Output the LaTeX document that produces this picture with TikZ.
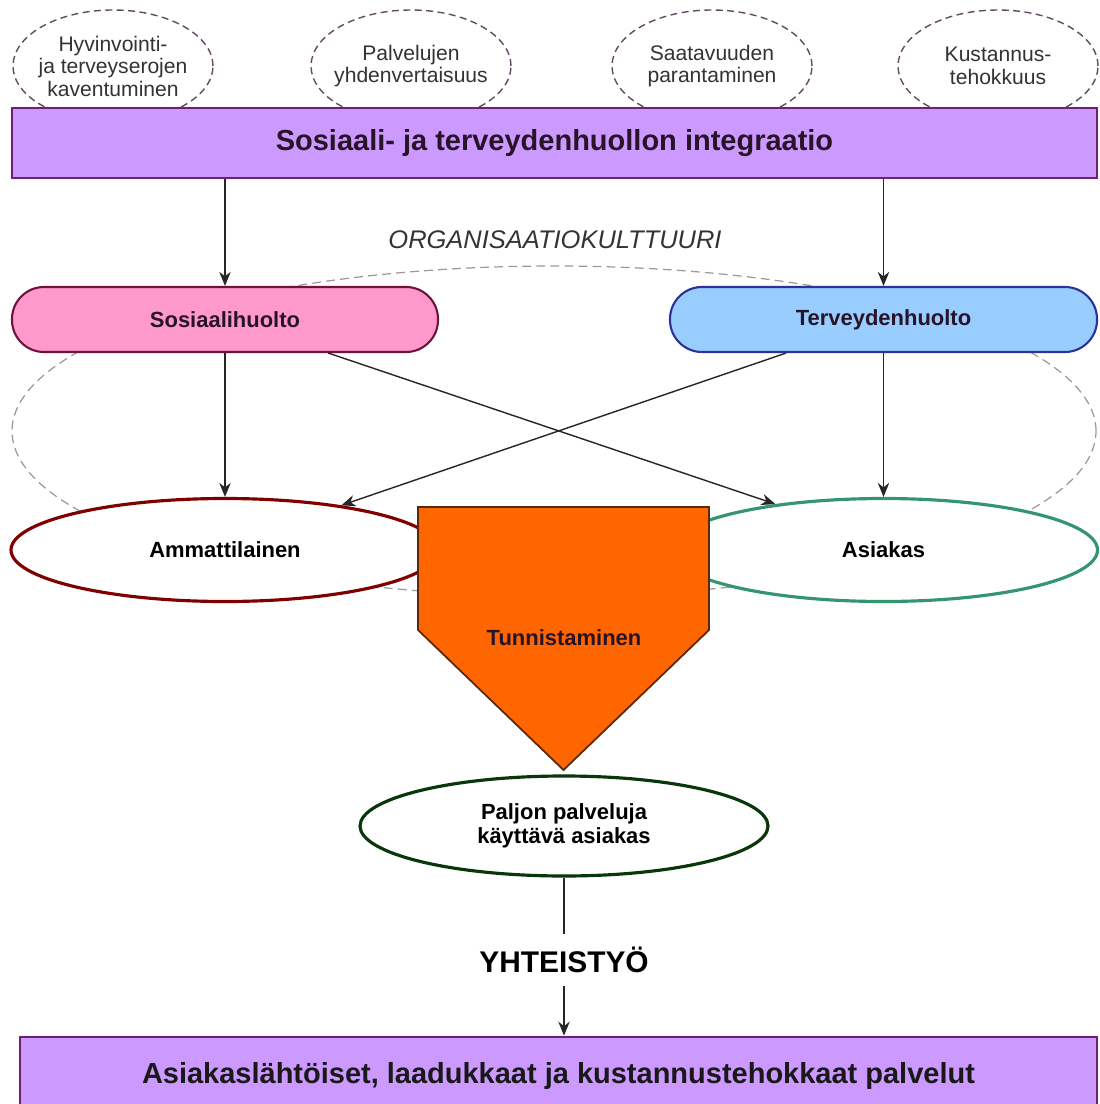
\documentclass[tikz,border=0pt]{standalone}
\usepackage{fontspec}
\setmainfont{Liberation Sans}
\usetikzlibrary{arrows.meta, shapes.geometric}

\definecolor{violetfill}{RGB}{204,153,255}
\definecolor{violetline}{RGB}{112,32,112}
\definecolor{aimline}{RGB}{100,75,100}
\definecolor{pinkfill}{RGB}{255,153,204}
\definecolor{pinkline}{RGB}{110,20,60}
\definecolor{bluefill}{RGB}{153,204,255}
\definecolor{blueline}{RGB}{45,50,150}
\definecolor{proline}{RGB}{128,0,0}
\definecolor{clientline}{RGB}{51,150,110}
\definecolor{heavyline}{RGB}{10,55,10}
\definecolor{orangefill}{RGB}{255,102,0}
\definecolor{orangeline}{RGB}{90,40,10}
\definecolor{inktext}{RGB}{40,20,40}

\begin{document}
\begin{tikzpicture}[x = 0.02cm, y = -0.02cm, > = {Stealth[length = 8pt, width = 6.5pt]},
	aim/.style = {ellipse, draw = aimline, dash pattern = on 4pt off 2.5pt, line width = 0.8pt, fill = white, inner xsep = -4pt, inner ysep = 0pt, align = center, text = black!80, font = \fontsize{12}{12.8}\selectfont},
	band/.style = {draw = violetline, fill = violetfill, line width = 1.5pt, text = inktext, font = \bfseries\fontsize{16.5}{18}\selectfont},
	pill/.style = {rectangle, rounded corners = 0.64cm, line width = 1.2pt, text = inktext, font = \bfseries\fontsize{12.5}{14}\selectfont},
	role/.style = {ellipse, fill = white, line width = 1.8pt, align = center, font = \bfseries\fontsize{12.5}{14}\selectfont},
	link/.style = {->, line width = 0.8pt, draw = black!85}]

	% Definition

	\def\px{0.02cm};

	\useasboundingbox (0, 0) rectangle (1099, 1104);

	% Aims above the integration

	\foreach \name/\cx/\txt in {aim1/113/{Hyvinvointi-\\ja terveyserojen\\kaventuminen}, aim2/411/{Palvelujen\\yhdenvertaisuus}, aim3/712/{Saatavuuden\\parantaminen}, aim4/998/{Kustannus-\\tehokkuus}}
	{
		\node [aim, minimum width = 200 * \px, minimum height = 112 * \px] (\name) at (\cx, 66) {\txt};
	}

	\node [band, minimum width = 1085 * \px, minimum height = 70 * \px] (integ) at (554.5, 143) {Sosiaali- ja terveydenhuollon integraatio};

	% Organisational culture

	\node [ellipse, draw = black!40, dash pattern = on 5pt off 3pt, line width = 0.7pt, minimum width = 1084 * \px, minimum height = 330 * \px] (culture) at (554, 431) {};
	\node [font = \itshape\fontsize{14.5}{16}\selectfont, text = black!80] (culturelabel) at (555, 240) {ORGANISAATIOKULTTUURI};

	\node [pill, draw = pinkline, fill = pinkfill, minimum width = 426 * \px, minimum height = 65 * \px] (sos) at (225, 319.5) {Sosiaalihuolto};
	\node [pill, draw = blueline, fill = bluefill, minimum width = 427 * \px, minimum height = 65 * \px] (ter) at (883.5, 319.5) {Terveydenhuolto};

	\node [role, draw = proline, minimum width = 428 * \px, minimum height = 103 * \px] (amm) at (225, 550) {Ammattilainen};
	\node [role, draw = clientline, minimum width = 428 * \px, minimum height = 103 * \px] (asi) at (883.5, 550) {Asiakas};

	% Arrows

	\draw [link] (integ.south -| sos) -- (sos);
	\draw [link] (integ.south -| ter) -- (ter);
	\draw [link] (sos) -- (amm);
	\draw [link] (ter) -- (asi);
	\draw [link] (sos.-18) -- (asi.157);
	\draw [link] (ter.-161) -- (amm.21);

	% Identification

	\filldraw [fill = orangefill, draw = orangeline, line width = 1pt] (418, 507) -- (709, 507) -- (709, 630) -- (563.5, 770) -- (418, 630) -- cycle;
	\node [font = \bfseries\fontsize{12.5}{14}\selectfont, text = inktext] (tun) at (564, 638) {Tunnistaminen};

	\node [role, draw = heavyline, minimum width = 408 * \px, minimum height = 100 * \px] (pal) at (564, 826) {Paljon palveluja\\käyttävä asiakas};

	% Collaboration

	\node [inner sep = 7pt, font = \bfseries\fontsize{17}{18}\selectfont] (yht) at (564, 960) {YHTEISTYÖ};
	\node [band, minimum width = 1077 * \px, minimum height = 78 * \px, text = black!90] (goal) at (558.5, 1076) {Asiakaslähtöiset, laadukkaat ja kustannustehokkaat palvelut};

	\draw [line width = 0.8pt, draw = black!85] (pal) -- (yht);
	\draw [link] (yht) -- (yht |- goal.north);

\end{tikzpicture}
\end{document}
